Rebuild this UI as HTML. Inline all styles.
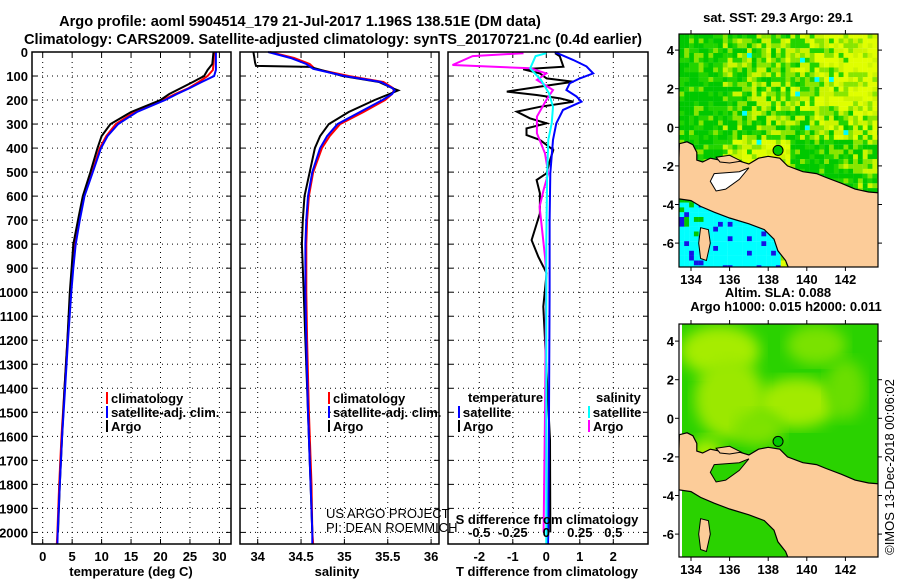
<!DOCTYPE html>
<html><head><meta charset="utf-8">
<style>
body{margin:0;background:#fff}
svg{display:block}
text{font-family:"Liberation Sans",sans-serif;font-weight:bold;font-size:13px;fill:#000}
.n{font-weight:normal}
</style></head>
<body>
<svg id="c" width="900" height="580" viewBox="0 0 900 580" xmlns="http://www.w3.org/2000/svg">
<text x="300" y="26" text-anchor="middle" style="font-size:14.6px">Argo profile: aoml 5904514_179 21-Jul-2017 1.196S 138.51E (DM data)</text>
<text x="333" y="44" text-anchor="middle" style="font-size:14.6px">Climatology: CARS2009. Satellite-adjusted climatology: synTS_20170721.nc (0.4d earlier)</text>
<g id="g"></g>
</svg>
<script>
// ---- temperature panel data ----
const tDepth=[0,50,75,100,125,150,175,200,250,300,350,400,500,600,700,800,900,1000,1200,1400,1600,1800,2000,2050];
const tClim=[29.1,29.0,28.9,28.0,26.5,24.8,22.5,20.4,15.6,12.4,10.8,9.7,8.4,7.0,6.2,5.5,5.1,4.75,4.2,3.7,3.2,2.8,2.5,2.4];
const tSat=[29.4,29.4,29.4,29.1,27.0,25.0,22.8,20.8,16.0,12.8,11.0,9.9,8.5,7.1,6.3,5.6,5.2,4.85,4.3,3.8,3.3,2.9,2.55,2.5];
const tArgoDepth=[0,50,75,100,125,150,175,200,250,300,350,400,500,600,700,800,900,1000,1200,1400,1600,1800,2000];
const tArgo=[29.0,28.8,28.0,27.4,25.5,23.5,21.5,20.0,15.0,11.5,10.0,9.3,8.1,6.8,6.0,5.2,4.9,4.6,4.2,3.7,3.3,2.9,2.6];
// ---- salinity panel data ----
const sDepth=[0,25,50,70,100,125,150,160,175,200,250,300,350,400,500,600,700,800,1000,1200,1500,1800,2000,2050];
const sClim=[34.14,34.42,34.6,34.66,35.05,35.45,35.56,35.57,35.55,35.47,35.22,34.95,34.83,34.74,34.64,34.59,34.57,34.56,34.56,34.57,34.59,34.62,34.63,34.64];
const sSat=[34.12,34.38,34.56,34.64,35.0,35.42,35.55,35.58,35.55,35.44,35.18,34.92,34.8,34.72,34.63,34.58,34.56,34.55,34.55,34.56,34.58,34.61,34.63,34.63];
const sArgoDepth=[0,20,45,58,62,100,125,150,160,175,200,250,300,350,400,500,600,700,800,1000,1200,1500,1800,2000];
const sArgo=[33.95,33.96,33.97,33.98,34.6,34.98,35.4,35.55,35.62,35.52,35.35,35.05,34.82,34.72,34.66,34.6,34.54,34.52,34.51,34.53,34.55,34.58,34.61,34.63];
// ---- difference panel data ----
const dTSatDepth=[0,33,60,89,110,130,158,185,207,241,297,366,505,700,1000,1500,2000,2050];
const dTSat=[0.25,0.8,1.2,1.4,1.0,0.7,0.6,0.9,1.05,0.5,0.3,0.2,0.12,0.1,0.1,0.08,0.06,0.05];
const dTArgoDepth=[5,17,61,72,89,110,124,144,165,179,193,207,228,248,276,297,318,346,366,408,450,505,533,588,672,783,852,921,1060,1199,1338,1476,1615,2000];
const dTArgo=[0.26,0.4,0.51,-0.69,-0.19,0.01,0.81,-0.19,-1.18,-0.29,0.41,0.81,-0.19,-0.88,-0.49,0.01,-0.59,-0.59,-0.19,0.21,0.11,0.01,-0.29,-0.19,-0.19,-0.44,-0.24,0.01,-0.09,-0.04,0.01,0.06,0.11,0.12];
const dSSatDepth=[5,17,68,116,172,228,297,366,505,783,1500,2050];
const dSSat=[0,-0.08,-0.12,-0.04,0.02,0.05,0.04,0.015,0.007,0.0,0.0,0.0];
const dSArgoDepth=[5,17,54,68,89,116,158,200,269,338,422,505,574,644,852,921,1500,2000];
const dSArgo=[-0.17,-0.55,-0.7,-0.12,0.0,-0.07,0.05,0.0,-0.07,-0.07,-0.01,0.015,-0.02,-0.05,-0.01,0.0,-0.01,-0.02];
// ---- axis ticks ----
const depthTicks=[0,100,200,300,400,500,600,700,800,900,1000,1100,1200,1300,1400,1500,1600,1700,1800,1900,2000];
const tTicks=[0,5,10,15,20,25,30];
const sTicks=[34,34.5,35,35.5,36];
const dTTicks=[-2,-1,0,1,2];
const dSTicks=[-0.5,-0.25,0,0.25,0.5];
const latTicks=[4,2,0,-2,-4,-6];
const lonTicks=[134,136,138,140,142];

const NS="http://www.w3.org/2000/svg";
const G=document.getElementById('g');
function mk(tag,at,parent){const e=document.createElementNS(NS,tag);for(const k in at)e.setAttribute(k,at[k]);(parent||G).appendChild(e);return e;}
const TOP=52,BOT=544;
const yD=d=>TOP+d*0.2402;
const xT=v=>42.7+v*5.89;
const xS=v=>257.7+(v-34)*86.7;
const xDT=v=>546.3+v*33.5;
const xDS=v=>546.3+v*134;

function panel(x0,x1,name){
  const g=mk('g',{});
  
  
  return g;
}
function grid(g,x0,x1,xs){
  depthTicks.forEach(d=>{mk('line',{x1:x0,x2:x1,y1:yD(d),y2:yD(d),stroke:'#000','stroke-width':1,'stroke-dasharray':'1 4'},g);
    mk('line',{x1:x0,x2:x0+5,y1:yD(d),y2:yD(d),stroke:'#000'},g);mk('line',{x1:x1-5,x2:x1,y1:yD(d),y2:yD(d),stroke:'#000'},g);});
  xs.forEach(x=>{mk('line',{x1:x,x2:x,y1:TOP,y2:BOT,stroke:'#000','stroke-dasharray':'1 4'},g);
    mk('line',{x1:x,x2:x,y1:BOT-5,y2:BOT,stroke:'#000'},g);mk('line',{x1:x,x2:x,y1:TOP,y2:TOP+5,stroke:'#000'},g);});
}
function frame(g,x0,x1){mk('rect',{x:x0,y:TOP,width:x1-x0,height:BOT-TOP,fill:'none',stroke:'#000','stroke-width':1.5},g);}
function line(g,xs,ds,fx,color,name,w){
  const p=mk('polyline',{points:xs.map((v,i)=>fx(v).toFixed(1)+','+yD(ds[i]).toFixed(1)).join(' '),fill:'none',stroke:color,'stroke-width':w||2},g);
  
  
}
function txt(g,x,y,s,anchor,cls,name,extra){const t=mk('text',Object.assign({x:x,y:y,'text-anchor':anchor||'start'},extra||{}),g);if(cls)t.setAttribute('class',cls);t.textContent=s;
  
  return t;}
function legend(g,x,y,color,label){mk('rect',{x:x,y:y-6,width:2,height:12,fill:color},g);
  txt(g,x+5,y+5,label,'start','','legend-entry-'+label.replace(/[^a-z]/gi,'').toLowerCase());}

// panel 1
const p1=panel(32,231,'temperature-panel');
grid(p1,32,231,tTicks.map(xT));
line(p1,tClim,tDepth,xT,'#ff0000','temperature-climatology-line');
line(p1,tArgo,tArgoDepth,xT,'#000','temperature-argo-line');
line(p1,tSat,tDepth,xT,'#0000ff','temperature-satellite-line');
frame(p1,32,231);
depthTicks.forEach(d=>txt(p1,28,yD(d)+5,String(d),'end','','depth-tick-label'));
tTicks.forEach(v=>txt(p1,xT(v),561,String(v),'middle','','temperature-tick-label'));
txt(p1,131,576,'temperature (deg C)','middle','','x-axis-title-temperature');
legend(p1,106,398,'#ff0000','climatology');legend(p1,106,412,'#0000ff','satellite-adj. clim.');legend(p1,106,426,'#000','Argo');

// panel 2
const p2=panel(240,439,'salinity-panel');
grid(p2,240,439,sTicks.map(xS));
line(p2,sClim,sDepth,xS,'#ff0000','salinity-climatology-line');
line(p2,sArgo,sArgoDepth,xS,'#000','salinity-argo-line');
line(p2,sSat,sDepth,xS,'#0000ff','salinity-satellite-line');
frame(p2,240,439);
sTicks.forEach(v=>txt(p2,xS(v),561,String(v),'middle','','salinity-tick-label'));
txt(p2,337,576,'salinity','middle','','x-axis-title-salinity');
legend(p2,328,398,'#ff0000','climatology');legend(p2,328,412,'#0000ff','satellite-adj. clim.');legend(p2,328,426,'#000','Argo');
txt(p2,326,518,'US ARGO PROJECT','start','n','credit-project');
txt(p2,326,532,'PI: DEAN ROEMMICH','start','n','credit-pi');

// panel 3
const p3=panel(448,648,'difference-panel');
grid(p3,448,648,dTTicks.map(xDT));
line(p3,dTArgo,dTArgoDepth,xDT,'#000','temperature-diff-argo-line');
line(p3,dSArgo,dSArgoDepth,xDS,'#ff00ff','salinity-diff-argo-line');
line(p3,dTSat,dTSatDepth,xDT,'#0000ff','temperature-diff-satellite-line');
line(p3,dSSat,dSSatDepth,xDS,'#00ffff','salinity-diff-satellite-line');
frame(p3,448,648);
dTTicks.forEach(v=>txt(p3,xDT(v),561,String(v),'middle','','t-diff-tick-label'));
dSTicks.forEach(v=>txt(p3,xDS(v),537,String(v),'middle','','s-diff-tick-label'));
txt(p3,547,524,'S difference from climatology','middle','','s-diff-axis-title');
txt(p3,547,576,'T difference from climatology','middle','','x-axis-title-t-diff');
txt(p3,468,402,'temperature','start','','legend-title-temperature');
txt(p3,596,402,'salinity','start','','legend-title-salinity');
legend(p3,458,412,'#0000ff','satellite');legend(p3,458,426,'#000','Argo');
legend(p3,588,412,'#00ffff','satellite');legend(p3,588,426,'#ff00ff','Argo');

// ---- maps ----
const land=[[133.4,-0.85],[133.8,-0.75],[134.1,-0.9],[134.3,-1.3],[134.3,-1.7],[134.6,-1.8],[135,-1.6],[135.5,-1.7],[136,-1.8],[136.5,-1.75],[137,-1.9],[137.5,-1.6],[138,-1.5],[138.6,-1.6],[139,-2.0],[139.8,-2.3],[140.5,-2.4],[141,-2.6],[141.8,-2.9],[142.5,-3.2],[143.2,-3.35],[143.8,-3.4],[143.8,-7.4],[139.1,-7.4],[138.9,-6.9],[138.5,-6.4],[138.3,-5.8],[137.8,-5.3],[137,-5.0],[136,-4.7],[135.2,-4.4],[134.5,-4.1],[134,-3.8],[133.3,-3.7]];
const bay=[[135.2,-2.4],[136.5,-2.3],[137,-2.1],[136.5,-2.7],[135.8,-3.2],[135.3,-3.3],[135.0,-2.8]];
const isl1=[[135.3,-1.55],[136.0,-1.45],[136.6,-1.75],[136.0,-1.85],[135.5,-1.8]];
const isl2=[[134.5,-5.2],[134.9,-5.3],[135,-6],[134.8,-6.9],[134.5,-6.8],[134.4,-6]];
function hash(i,j){let h=(i*374761393+j*668265263)^0x5bd1e995;h=(h^(h>>>13))*1274126177;return ((h^(h>>>16))>>>0)/4294967295;}
function map(y0,lat0y,title1,title2,kind,name){
  const x0=679,x1=878,y1=y0+233;
  const mx=l=>691+(l-134)*19.3, my=l=>lat0y-l*19.3;
  const g=mk('g',{});
  const cid='clip'+name;const cp=mk('clipPath',{id:cid},g);mk('rect',{x:x0,y:y0,width:x1-x0,height:y1-y0},cp);
  const inner=mk('g',{'clip-path':'url(#'+cid+')'},g);
  if(kind==='sst'){
    for(let i=0;i<42;i++)for(let j=0;j<50;j++){
      const lon=133.4+i*0.25,lat=4.85-j*0.25;const r=hash(i,j);
      let c;
      if(lat<-3.8&&lon<138.6){c=r<0.12?'#1414e6':(r<0.18&&lon<134.6?'#00c800':'#00ffff');}
      else{
        let yel=(lon-133.4)/10*0.55+r*0.55-0.05;
        if(lat<-0.5&&lon>139)yel-=0.35;
        if(lat<1&&lat>-0.5&&lon>139)yel-=0.15;
        if(lat<-0.5&&lon<139&&lon>135.5)yel+=0.25;
        c=yel>0.72?'#e0ff00':yel>0.58?'#ccf500':yel>0.44?'#88e600':yel>0.3?'#22d400':'#00c800';
        if(r>0.993)c='#00ffff';}
      mk('rect',{x:(mx(lon)).toFixed(1),y:(my(lat)).toFixed(1),width:5,height:5,fill:c},inner);
    }
  } else {
    mk('rect',{x:x0,y:y0,width:x1-x0,height:y1-y0,fill:'#2ad200'},inner);
    const blobs=[[135.5,3.5,40,25,'#a6ec00'],[136,1,35,40,'#9be800'],[139.5,0.8,40,25,'#a2ea00'],[140.5,3.8,30,20,'#7ae200'],[134.8,-2.3,18,25,'#a8ee00'],[142,1.5,20,30,'#6ade00'],[137.5,-0.5,25,18,'#7ee200']];
    const f=mk('filter',{id:'bl'},g);mk('feGaussianBlur',{stdDeviation:7},f);
    blobs.forEach(b=>mk('ellipse',{cx:mx(b[0]),cy:my(b[1]),rx:b[2],ry:b[3],fill:b[4],filter:'url(#bl)'},inner));
    mk('rect',{x:x0,y:y0,width:3,height:y1-y0,fill:'#fff'},inner);
  }
  const pp=a=>a.map(p=>mx(p[0]).toFixed(1)+','+my(p[1]).toFixed(1)).join(' ');
  mk('polygon',{points:pp(land),fill:'#fccc99',stroke:'#000','stroke-width':1.2},inner);
  mk('polygon',{points:pp(bay),fill:kind==='sst'?'#fff':'#2ad200',stroke:'#000','stroke-width':1},inner);
  mk('polygon',{points:pp(isl1),fill:'#fccc99',stroke:'#000','stroke-width':1},inner);
  mk('polygon',{points:pp(isl2),fill:'#fccc99',stroke:'#000','stroke-width':1},inner);
  const m=mk('circle',{cx:mx(138.51),cy:my(-1.196),r:5,fill:'#00c800',stroke:'#000','stroke-width':1},inner);
  
  
  mk('rect',{x:x0,y:y0,width:x1-x0,height:y1-y0,fill:'none',stroke:'#000','stroke-width':1.2},g);
  latTicks.forEach(l=>{mk('line',{x1:x0-4,x2:x0,y1:my(l),y2:my(l),stroke:'#000'},g);mk('line',{x1:x1,x2:x1+4,y1:my(l),y2:my(l),stroke:'#000'},g);
    txt(g,674,my(l)+5,String(l),'end','','latitude-tick-label');});
  lonTicks.forEach(l=>{mk('line',{x1:mx(l),x2:mx(l),y1:y1,y2:y1+4,stroke:'#000'},g);mk('line',{x1:mx(l),x2:mx(l),y1:y0-4,y2:y0,stroke:'#000'},g);
    txt(g,mx(l),y1+17,String(l),'middle','','longitude-tick-label');});
  if(title2){txt(g,778,y0-27,title1,'middle','','map-title-line-1');txt(g,786,y0-13,title2,'middle','','map-title-line-2');}
  else txt(g,778,y0-12,title1,'middle','','map-title');
}
map(34,127.3,'sat. SST: 29.3 Argo: 29.1',null,'sst','sst-map');
map(324,418.3,'Altim. SLA: 0.088','Argo h1000: 0.015 h2000: 0.011','sla','sla-map');
txt(G,0,0,'©IMOS 13-Dec-2018 00:06:02','middle','n','copyright-timestamp',{transform:'translate(894,467) rotate(-90)'});
</script>
</body></html>
